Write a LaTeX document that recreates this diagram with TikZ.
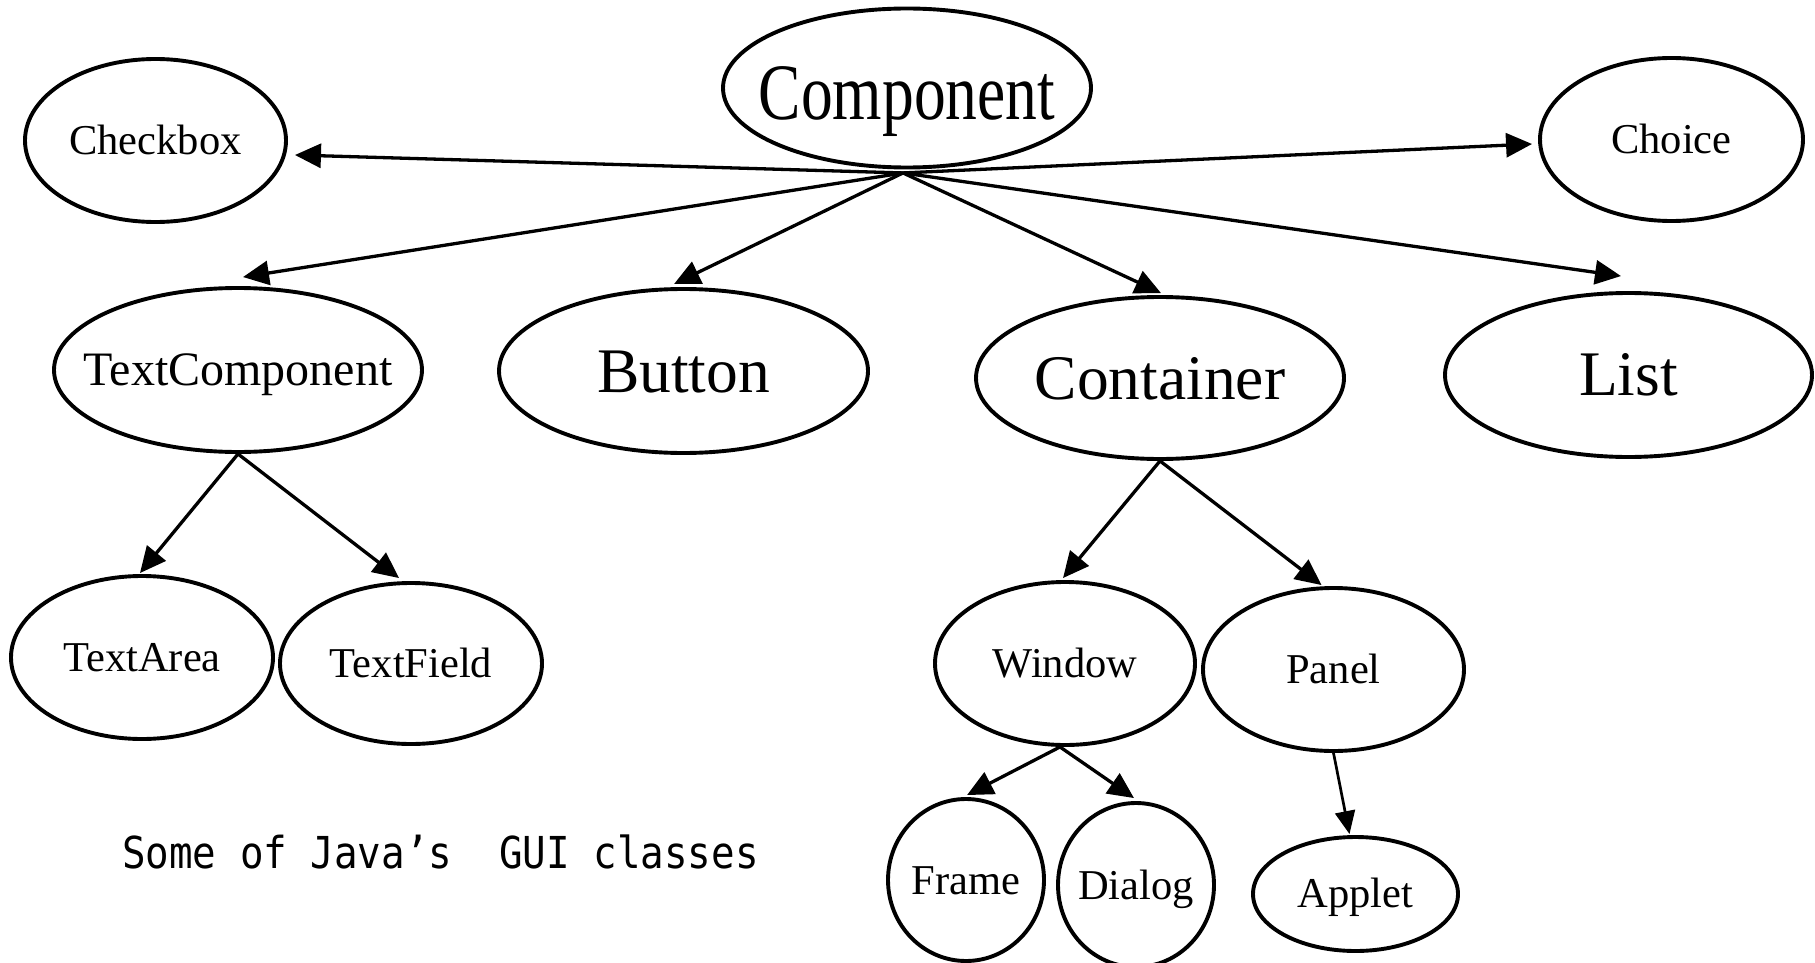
\documentclass[tikz,border=0pt]{standalone}
\usepackage{fontspec}
\setmainfont{Liberation Serif}
\newfontfamily\captionfont[FakeStretch=0.89]{DejaVu Sans Mono}
\usetikzlibrary{shapes.geometric,arrows.meta,calc}

\begin{document}
\begin{tikzpicture}[x=1pt,y=-1pt,
  oval/.style={draw, ellipse, line width=3.9pt, inner sep=0pt},
  small/.style={anchor=base, inner sep=0pt, font=\fontsize{42.5}{50}\selectfont},
  big/.style={anchor=base, inner sep=0pt, font=\fontsize{63.5}{75}\selectfont},
  arr/.style={line width=3.3pt, -{Triangle[length=26pt,width=24pt]}},
  thinarr/.style={line width=2.7pt, -{Triangle[length=23pt,width=20pt]}},
]
\useasboundingbox (0,0) rectangle (1815,963);

% class ellipses
\node[oval, minimum width=368pt, minimum height=159pt] (comp)      at (907,88)      {};
\node[oval, minimum width=261pt, minimum height=163pt] (checkbox)  at (155.5,140.5) {};
\node[oval, minimum width=263pt, minimum height=163pt] (choice)    at (1671.5,139.5){};
\node[oval, minimum width=368pt, minimum height=164pt] (tc)        at (238,370)     {};
\node[oval, minimum width=369pt, minimum height=164pt] (button)    at (683.5,371)   {};
\node[oval, minimum width=368pt, minimum height=162pt] (container) at (1160,378)    {};
\node[oval, minimum width=367pt, minimum height=164pt] (list)      at (1628.5,375)  {};
\node[oval, minimum width=262pt, minimum height=163pt] (textarea)  at (142,657.5)   {};
\node[oval, minimum width=262pt, minimum height=161pt] (textfield) at (411,663.5)   {};
\node[oval, minimum width=260pt, minimum height=163pt] (window)    at (1065,663.5)  {};
\node[oval, minimum width=261pt, minimum height=163pt] (panel)     at (1333.5,669.5){};
\node[oval, minimum width=156pt, minimum height=162pt] (frame)     at (966,880)     {};
\node[oval, minimum width=156pt, minimum height=164pt] (dialog)    at (1136,885)    {};
\node[oval, minimum width=205pt, minimum height=114pt] (applet)    at (1355.5,894)  {};

% class names
\node[big] (comp-t) at ([yshift=-32pt]comp.center) {\scalebox{1}[1.26]{Component}};
\node[small] (checkbox-t)  at ([yshift=-14.1pt]checkbox.center)  {Checkbox};
\node[small] (choice-t)    at ([yshift=-14.1pt]choice.center)    {Choice};
\node[small] (tc-t)        at ([yshift=-15.5pt]tc.center)        {\fontsize{48}{56}\selectfont TextComponent};
\node[big]   (button-t)    at ([yshift=-21pt]button.center)      {Button};
\node[big]   (container-t) at ([yshift=-21pt]container.center)   {Container};
\node[big]   (list-t)      at ([yshift=-20pt]list.center)        {List};
\node[small] (textarea-t)  at ([yshift=-14.1pt]textarea.center)  {TextArea};
\node[small] (textfield-t) at ([yshift=-14.1pt]textfield.center) {TextField};
\node[small] (window-t)    at ([yshift=-14.1pt]window.center)    {Window};
\node[small] (panel-t)     at ([yshift=-14.1pt]panel.center)     {Panel};
\node[small] (frame-t)     at ([yshift=-14.1pt]frame.center)     {Frame};
\node[small] (dialog-t)    at ([yshift=-14.1pt]dialog.center)    {Dialog};
\node[small] (applet-t)    at ([yshift=-13pt]applet.center)      {Applet};

% inheritance arrows fanning out below Component
\coordinate (hub) at ([shift={(-4pt,-3.5pt)}]comp.south);
\draw[arr] (hub) -- ([shift={(7pt,-14.5pt)}]checkbox.east);
\draw[arr] (hub) -- ([shift={(-6pt,-4.5pt)}]choice.west);
\draw[arr] (hub) -- ([shift={(5pt,9pt)}]tc.north);
\draw[arr] (hub) -- ([shift={(-9.5pt,3pt)}]button.north);
\draw[arr] (hub) -- ([shift={(1pt,2pt)}]container.north);
\draw[arr] (hub) -- ([shift={(-7.5pt,15pt)}]list.north);

\draw[arr] (tc.south) -- ([shift={(-2pt,1pt)}]textarea.north);
\draw[arr] (tc.south) -- ([shift={(-12pt,3pt)}]textfield.north);

\draw[arr] (container.south) -- ([shift={(-2pt,2pt)}]window.north);
\draw[arr] (container.south) -- ([shift={(-12pt,1pt)}]panel.north);

\coordinate (wfoot) at ([xshift=-5pt]window.south);
\draw[arr] (wfoot) -- ([shift={(1pt,2pt)}]frame.north);
\draw[arr] (wfoot) -- ([shift={(-2pt,3pt)}]dialog.north);

\draw[thinarr] (panel.south) -- ([shift={(-6pt,1pt)}]applet.north);

% caption
\node[anchor=base west, inner sep=0pt, font=\captionfont\fontsize{44}{50}\selectfont] (caption) at (122,868) {Some of Java’s\ \ GUI classes};
\end{tikzpicture}
\end{document}
